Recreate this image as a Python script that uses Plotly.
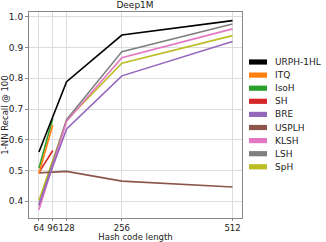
import plotly.graph_objects as go

code_lengths = [64, 128, 256, 512]
short_lengths = [64, 96]

urph = [0.56, 0.789, 0.941, 0.988]
itq = [0.49, 0.648]
isoh = [0.507, 0.67]
sh = [0.493, 0.565]
bre = [0.39, 0.635, 0.808, 0.92]
usplh = [0.492, 0.497, 0.465, 0.446]
klsh = [0.372, 0.66, 0.867, 0.961]
lsh = [0.385, 0.665, 0.887, 0.977]
sph = [0.402, 0.664, 0.849, 0.939]

x_ticks = [64, 96, 128, 256, 512]
x_tick_labels = ["64", "96", "128", "256", "512"]
y_ticks = [0.4, 0.5, 0.6, 0.7, 0.8, 0.9, 1.0]

series = [
    ("URPH-1HL", code_lengths, urph, "#000000"),
    ("ITQ", short_lengths, itq, "#ff7f0e"),
    ("IsoH", short_lengths, isoh, "#2ca02c"),
    ("SH", short_lengths, sh, "#d62728"),
    ("BRE", code_lengths, bre, "#9467bd"),
    ("USPLH", code_lengths, usplh, "#8c564b"),
    ("KLSH", code_lengths, klsh, "#e377c2"),
    ("LSH", code_lengths, lsh, "#7f7f7f"),
    ("SpH", code_lengths, sph, "#bcbd22"),
]

W, H = 326, 242
ML, MR, MT, MB = 29, 84, 12, 24
plot_w = W - ML - MR
plot_h = H - MT - MB

fig = go.Figure()
for name, xs, ys, col in reversed(series):
    fig.add_trace(go.Scatter(x=xs, y=ys, mode="lines", name=name,
                             line=dict(color=col, width=1.6), showlegend=False))

# matplotlib-style legend on the right (compact spacing)
font = "DejaVu Sans"
leg_top_px = 62
leg_step_px = 13.1
for i, (name, xs, ys, col) in enumerate(series):
    ypx = leg_top_px + i * leg_step_px
    yc = (H - MB - ypx) / plot_h
    half = 2.6 / plot_h
    x0 = (249 - ML) / plot_w
    x1 = (267 - ML) / plot_w
    fig.add_shape(type="rect", xref="paper", yref="paper",
                  x0=x0, x1=x1, y0=yc - half, y1=yc + half,
                  fillcolor=col, line=dict(width=0))
    fig.add_annotation(xref="paper", yref="paper", x=(273 - ML) / plot_w, y=yc,
                       text=name, showarrow=False, xanchor="left", yanchor="middle",
                       font=dict(family=font, size=9, color="#222"))

fig.update_layout(
    width=W, height=H,
    margin=dict(l=ML, r=MR, t=MT, b=MB, autoexpand=False),
    plot_bgcolor="white", paper_bgcolor="white",
    font=dict(family=font, size=9, color="#222"),
    showlegend=False,
    title=dict(text="Deep1M", x=135 / W, xanchor="center", y=0.995, yanchor="top",
               font=dict(size=9, family=font)),
    xaxis=dict(range=[41, 534], tickvals=x_ticks, ticktext=x_tick_labels,
               tickangle=0, automargin=False,
               showgrid=True, gridcolor="#dddddd", gridwidth=1,
               showline=True, linecolor="#888", mirror=True, linewidth=1,
               ticks="outside", ticklen=2, tickcolor="#888",
               title=dict(text="Hash code length", standoff=0, font=dict(size=8.5)),
               tickfont=dict(size=8.5), zeroline=False),
    yaxis=dict(range=[0.345, 1.016], tickvals=y_ticks, tickformat=".1f",
               automargin=False,
               showgrid=True, gridcolor="#dddddd", gridwidth=1,
               showline=True, linecolor="#888", mirror=True, linewidth=1,
               ticks="outside", ticklen=3, tickcolor="#888",
               title=dict(text="1-NN Recall @ 100", standoff=1, font=dict(size=8.5)),
               tickfont=dict(size=9), zeroline=False),
)
fig.write_html("out.html", config={"displayModeBar": False},
               post_script="document.body.style.margin='0';")
